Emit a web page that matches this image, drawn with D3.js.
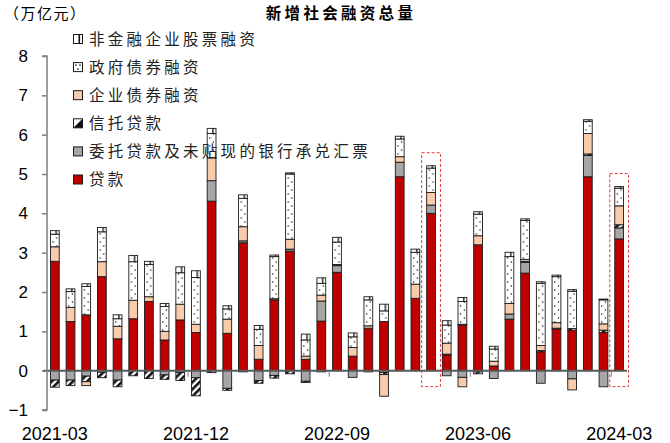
<!DOCTYPE html>
<html><head><meta charset="utf-8">
<script src="https://cdn.jsdelivr.net/npm/d3@7"></script>
<style>
html,body{margin:0;padding:0;background:#fff;}
svg{display:block;}
</style></head>
<body>
<svg id="c" width="670" height="443"></svg>
<script>
const months = ["2021-03","2021-04","2021-05","2021-06","2021-07","2021-08","2021-09","2021-10","2021-11","2021-12",
"2022-01","2022-02","2022-03","2022-04","2022-05","2022-06","2022-07","2022-08","2022-09","2022-10","2022-11","2022-12",
"2023-01","2023-02","2023-03","2023-04","2023-05","2023-06","2023-07","2023-08","2023-09","2023-10","2023-11","2023-12",
"2024-01","2024-02","2024-03"];
const tickLabels = ["2021-03","2021-12","2022-09","2023-06","2024-03"];
const highlighted = ["2023-03","2024-03"];
const yTicks = [-1,0,1,2,3,4,5,6,7,8];

// 贷款
const loan = [2.78,1.25,1.42,2.39,0.81,1.32,1.76,0.78,1.29,0.97,4.31,0.95,3.25,0.29,1.80,3.04,0.29,1.26,2.50,0.37,1.08,1.25,4.93,1.84,4.00,0.40,1.16,3.20,0.12,1.31,2.48,0.48,1.06,1.03,4.93,0.97,3.35];
// 委托贷款及未贴现的银行承兑汇票
const entrusted = [-0.24,-0.24,-0.14,-0.04,-0.24,0,0,-0.11,-0.05,-0.18,0.52,-0.45,0.05,-0.25,-0.12,0.05,-0.27,0.51,0.17,-0.17,-0.03,-0.05,0.37,0,0.21,-0.13,-0.17,-0.03,-0.20,0.13,0.27,-0.32,0,-0.21,0.54,-0.41,0.28];
// 信托贷款
const trust = [-0.18,-0.14,-0.14,-0.14,-0.17,-0.13,-0.20,-0.11,-0.20,-0.46,-0.05,-0.05,-0.03,-0.07,-0.07,-0.08,-0.03,-0.03,0.01,0,0,-0.05,0,0,0,0.02,0.02,-0.05,0,0,0.03,0.03,0.02,0.04,0.04,0.06,0.08];
// 企业债券融资
const corpBond = [0.37,0.36,-0.10,0.38,0.32,0.47,0.12,0.22,0.40,0.21,0.58,0.36,0.36,0.35,0.03,0.25,0.08,0.15,0.02,0.22,0.06,-0.55,0.14,0.36,0.32,0.28,-0.24,0.23,0.12,0.27,0.05,0.13,0.14,-0.28,0.52,0.16,0.48];
// 政府债券融资
const govBond = [0.32,0.40,0.72,0.76,0.19,0.98,0.82,0.63,0.80,1.19,0.62,0.26,0.72,0.41,1.07,1.66,0.41,0.30,0.57,0.27,0.66,0.27,0.45,0.81,0.62,0.46,0.58,0.55,0.31,1.19,0.99,1.58,1.17,0.95,0.31,0.61,0.45];
// 非金融企业股票融资
const equity = [0.09,0.07,0.07,0.11,0.10,0.16,0.08,0.08,0.15,0.17,0.13,0.08,0.09,0.10,0.04,0.03,0.15,0.14,0.12,0.10,0.08,0.17,0.07,0.08,0.06,0.11,0.10,0.06,0.07,0.11,0.04,0.04,0.04,0.04,0.04,0.02,0.04];

const seriesNames = ["贷款","委托贷款及未贴现的银行承兑汇票","信托贷款","企业债券融资","政府债券融资","非金融企业股票融资"];
const seriesData = [loan, entrusted, trust, corpBond, govBond, equity];
const keys = ["loan","ent","trust","corp","gov","eq"];

const rows = months.map((m,i)=>{
  const r = {month:m};
  keys.forEach((k,j)=> r[k] = seriesData[j][i]);
  return r;
});

const svg = d3.select("#c");
const CJK = "'Noto Sans CJK SC','Noto Sans',sans-serif";
const NUM = "'Liberation Sans',Arial,sans-serif";

const x = d3.scaleBand().domain(months).range([47,627]).paddingInner(0.44).paddingOuter(0.22);
const y = d3.scaleLinear().domain([-1,8]).range([410,56]);

// patterns
const defs = svg.append("defs");
const gp2 = defs.append("pattern").attr("id","pGov2").attr("patternUnits","userSpaceOnUse")
  .attr("x", x(months[0])).attr("y",0).attr("width", x.step()).attr("height",8);
gp2.append("rect").attr("width", x.step()).attr("height",8).attr("fill","#fff");
gp2.append("circle").attr("cx",x.bandwidth()*0.3).attr("cy",2).attr("r",0.75).attr("fill","#111");
gp2.append("circle").attr("cx",x.bandwidth()*0.72).attr("cy",6).attr("r",0.75).attr("fill","#111");

const ep = defs.append("pattern").attr("id","pEq").attr("patternUnits","userSpaceOnUse")
  .attr("x", x(months[0])).attr("y",0).attr("width", x.step()).attr("height",10);
ep.append("rect").attr("width", x.step()).attr("height",10).attr("fill","#fff");
ep.append("rect").attr("x", x.bandwidth()*0.58).attr("width",1.3).attr("height",10).attr("fill","#111");

const tp = defs.append("pattern").attr("id","pTrust").attr("patternUnits","userSpaceOnUse")
  .attr("width",5).attr("height",5).attr("patternTransform","rotate(45)");
tp.append("rect").attr("width",5).attr("height",5).attr("fill","#fff");
tp.append("rect").attr("width",2.6).attr("height",5).attr("fill","#111");

const fills = {loan:"#C00000", ent:"#A6A6A6", trust:"url(#pTrust)", corp:"#F8CBAD", gov:"url(#pGov2)", eq:"url(#pEq)"};

const stack = d3.stack().keys(keys).offset(d3.stackOffsetDiverging);
const layers = stack(rows);

// bars
const gBars = svg.append("g");
layers.forEach(layer=>{
  gBars.append("g").selectAll("rect").data(layer.filter(d=>Math.abs(d[1]-d[0])>1e-9)).join("rect")
    .attr("x", d=>x(d.data.month))
    .attr("width", x.bandwidth())
    .attr("y", d=>y(Math.max(d[0],d[1])))
    .attr("height", d=>Math.abs(y(d[0])-y(d[1])))
    .attr("fill", fills[layer.key])
    .attr("stroke","#1a1a1a").attr("stroke-width",0.9);
});

// zero line
svg.append("line").attr("x1",43).attr("x2",627).attr("y1",y(0)).attr("y2",y(0))
  .attr("stroke","#595959").attr("stroke-width",2);

// y axis
const yAxis = svg.append("g").attr("transform","translate(47,0)")
  .call(d3.axisLeft(y).tickValues(yTicks).tickSize(5).tickPadding(14).tickFormat(d3.format("d")));
yAxis.select(".domain").attr("stroke","#7f7f7f").attr("stroke-width",1.5).attr("d", `M-5,${y(8)}H0V${y(-1)}H-5`);
yAxis.selectAll(".tick line").attr("stroke","#7f7f7f").attr("stroke-width",1.5);
yAxis.selectAll(".tick text").attr("font-family",NUM).attr("font-size",17).attr("fill","#000");

// x tick marks at band left edges and labels
const off = x.step()*x.paddingInner()/2;
svg.append("g").selectAll("line").data(tickLabels.slice(1)).join("line")
  .attr("x1", d=>x(d)-off).attr("x2", d=>x(d)-off)
  .attr("y1", y(0)).attr("y2", y(0)+6).attr("stroke","#7f7f7f").attr("stroke-width",1);
svg.append("g").selectAll("text").data(tickLabels).join("text")
  .attr("x", d=>x(d)+x.bandwidth()/2).attr("y",440)
  .attr("text-anchor","middle").attr("font-family",NUM).attr("font-size",18).attr("fill","#000")
  .text(d=>d);

// highlight dashed boxes
svg.append("g").selectAll("rect").data(highlighted).join("rect")
  .attr("x", d=>x(d)-5).attr("width", x.bandwidth()+10)
  .attr("y", d=>{ const i = months.indexOf(d); const top = d3.max(layers, l=>Math.max(l[i][0],l[i][1])); return y(top)-13; })
  .attr("height", d=>{ const i = months.indexOf(d); const top = d3.max(layers, l=>Math.max(l[i][0],l[i][1])); const bot = d3.min(layers,l=>Math.min(l[i][0],l[i][1])); return y(bot)+16 - (y(top)-13); })
  .attr("fill","none").attr("stroke","#E03C3C").attr("stroke-width",1).attr("stroke-dasharray","3,2");

// title & unit
svg.append("text").attr("x",341).attr("y",18.5).attr("text-anchor","middle")
  .attr("font-family",CJK).attr("font-weight","bold").attr("font-size",15.5).attr("letter-spacing",3.3)
  .text("新增社会融资总量");
svg.append("text").attr("x",4).attr("y",18.5)
  .attr("font-family",CJK).attr("font-size",15).attr("letter-spacing",1.5)
  .text("（万亿元）");

// legend (top to bottom, reverse of stack order)
const legendOrder = ["eq","gov","corp","trust","ent","loan"];
const legendName = k => seriesNames[keys.indexOf(k)];
const lg = svg.append("g");
legendOrder.forEach((k,i)=>{
  const cy = 39 + i*28.1;
  const g = lg.append("g");
  g.append("rect").attr("x",73.5).attr("y",cy-4.5).attr("width",9).attr("height",9)
    .attr("fill", k==="loan"?"#C00000":k==="ent"?"#A6A6A6":k==="corp"?"#F8CBAD":"#fff")
    .attr("stroke","#1a1a1a").attr("stroke-width",1);
  if(k==="eq"){
    g.append("rect").attr("x",78.5).attr("y",cy-4.5).attr("width",1.6).attr("height",9).attr("fill","#111");
  }
  if(k==="gov"){
    [[76,cy-2],[80,cy-2],[78,cy+2]].forEach(p=>g.append("circle").attr("cx",p[0]).attr("cy",p[1]).attr("r",0.8).attr("fill","#111"));
  }
  if(k==="trust"){
    g.append("path").attr("d",`M82.5,${cy-4.5}L82.5,${cy+4.5}L73.5,${cy+4.5}Z`).attr("fill","#111");
  }
  g.append("text").attr("x",89).attr("y",cy).attr("dy","0.36em")
    .attr("font-family",CJK).attr("font-size",15.5).attr("letter-spacing",3.3).attr("fill","#222")
    .text(legendName(k));
});
</script>
</body></html>
